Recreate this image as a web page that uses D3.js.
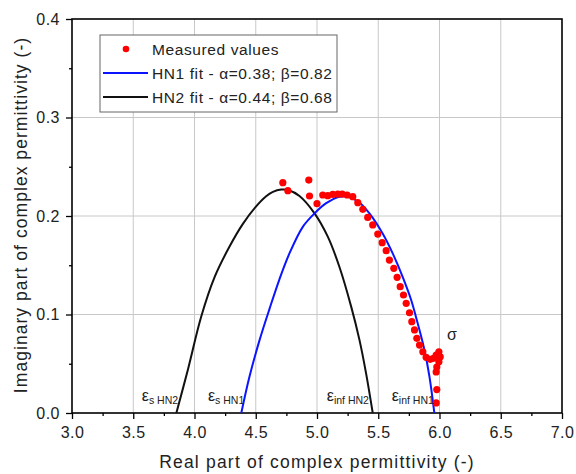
<!DOCTYPE html>
<html>
<head>
<meta charset="utf-8">
<script src="https://cdn.jsdelivr.net/npm/d3@7"></script>
<style>
  html, body { margin: 0; padding: 0; background: #fff; }
  svg { display: block; font-family: "Liberation Sans", Arial, sans-serif; }
</style>
</head>
<body>
<svg id="chart" width="576" height="474"></svg>
<script>
// Measured Cole-Cole points (real, imaginary part of permittivity)
const measuredReal = [4.721, 4.762, 4.933, 4.939, 5.000, 5.047, 5.088, 5.129, 5.170, 5.206,
  5.246, 5.292, 5.333, 5.374, 5.414, 5.455, 5.496, 5.532, 5.565, 5.591,
  5.627, 5.654, 5.679, 5.706, 5.728, 5.755, 5.774, 5.796, 5.815, 5.837,
  5.864, 5.891, 5.924, 5.951, 5.973, 5.995, 6.006, 5.995, 5.978, 5.973,
  5.978, 5.973];
const measuredImag = [0.2338, 0.2257, 0.2365, 0.2203, 0.2125, 0.2213, 0.2206, 0.2220, 0.2223, 0.2223,
  0.2213, 0.2196, 0.2135, 0.2068, 0.1986, 0.1909, 0.1817, 0.1729, 0.1648, 0.1553,
  0.1469, 0.1377, 0.1282, 0.1198, 0.1113, 0.1018, 0.0927, 0.0843, 0.0758, 0.0690,
  0.0622, 0.0565, 0.0545, 0.0555, 0.0589, 0.0622, 0.0571, 0.0520, 0.0467, 0.0417,
  0.0238, 0.0102];

// HN1 fit curve
const hn1Real = [4.382, 4.449, 4.531, 4.613, 4.694, 4.775, 4.884, 4.980, 5.075, 5.184,
  5.265, 5.347, 5.428, 5.537, 5.618, 5.700, 5.768, 5.822, 5.877, 5.918, 5.958];
const hn1Imag = [0.000, 0.037, 0.074, 0.106, 0.136, 0.162, 0.189, 0.2027, 0.213, 0.2196,
  0.219, 0.2135, 0.2027, 0.182, 0.162, 0.138, 0.115, 0.091, 0.064, 0.037, 0.000];

// HN2 fit curve
const hn2Real = [3.852, 3.946, 4.055, 4.164, 4.286, 4.395, 4.498, 4.585, 4.640, 4.708,
  4.770, 4.857, 4.980, 5.088, 5.184, 5.279, 5.347, 5.401, 5.455];
const hn2Imag = [0.000, 0.044, 0.098, 0.138, 0.169, 0.192, 0.209, 0.220, 0.2245, 0.2268,
  0.2262, 0.2203, 0.2027, 0.179, 0.148, 0.108, 0.074, 0.040, 0.000];

const xTicks = [3.0, 3.5, 4.0, 4.5, 5.0, 5.5, 6.0, 6.5, 7.0];
const yTicks = [0.0, 0.1, 0.2, 0.3, 0.4];

const legendLabels = ["Measured values", "HN1 fit - \u03b1=0.38; \u03b2=0.82", "HN2 fit - \u03b1=0.44; \u03b2=0.68"];

// Limit markers on the real axis: [greek, subscript, real value]
const limitLabels = [
  ["\u03b5", "s HN2", 3.57],
  ["\u03b5", "s HN1", 4.11],
  ["\u03b5", "inf HN2", 5.08],
  ["\u03b5", "inf HN1", 5.61]
];

const svg = d3.select("#chart");
const m = { left: 72, right: 562, top: 19, bottom: 413 };

const x = d3.scaleLinear().domain([3, 7]).range([m.left, m.right]);
const y = d3.scaleLinear().domain([0, 0.4]).range([m.bottom, m.top]);

// grid
const grid = svg.append("g");
grid.selectAll("line.gx").data(xTicks.slice(1, -1)).join("line")
  .attr("x1", d => x(d)).attr("x2", d => x(d))
  .attr("y1", m.top).attr("y2", m.bottom)
  .attr("stroke", "#c8c8c8").attr("stroke-width", 1);
grid.selectAll("line.gy").data(yTicks.slice(1, -1)).join("line")
  .attr("y1", d => y(d)).attr("y2", d => y(d))
  .attr("x1", m.left).attr("x2", m.right)
  .attr("stroke", "#c8c8c8").attr("stroke-width", 1);

// axes
const xAxis = d3.axisBottom(x).tickValues(xTicks).tickFormat(d3.format(".1f")).tickSize(6).tickPadding(8);
const xMinor = d3.axisBottom(x).tickValues(d3.range(3.25, 7, 0.5)).tickFormat("").tickSize(3);
const yAxis = d3.axisLeft(y).tickValues(yTicks).tickFormat(d3.format(".1f")).tickSize(6).tickPadding(6);
const yMinor = d3.axisLeft(y).tickValues([0.05, 0.15, 0.25, 0.35]).tickFormat("").tickSize(3);

function styleAxis(g) {
  g.select(".domain").remove();
  g.selectAll(".tick line").attr("stroke", "#000").attr("stroke-width", 1.3);
  g.selectAll(".tick text").attr("fill", "#222").style("font-size", "16px")
    .style("letter-spacing", "0.5px")
    .style("font-family", "'Liberation Sans', Arial, sans-serif");
}
svg.append("g").attr("transform", `translate(0,${m.bottom})`).call(xAxis).call(styleAxis);
svg.append("g").attr("transform", `translate(0,${m.bottom})`).call(xMinor).call(styleAxis);
svg.append("g").attr("transform", `translate(${m.left},0)`).call(yAxis).call(styleAxis);
svg.append("g").attr("transform", `translate(${m.left},0)`).call(yMinor).call(styleAxis);

// frame
svg.append("rect")
  .attr("x", m.left).attr("y", m.top)
  .attr("width", m.right - m.left).attr("height", m.bottom - m.top)
  .attr("fill", "none").attr("stroke", "#000").attr("stroke-width", 1.6);

// fit curves
const line = d3.line().x(d => x(d[0])).y(d => y(d[1])).curve(d3.curveCatmullRom.alpha(0.5));
svg.append("clipPath").attr("id", "plotclip").append("rect")
  .attr("x", m.left).attr("y", m.top).attr("width", m.right - m.left).attr("height", m.bottom - m.top);
const plot = svg.append("g").attr("clip-path", "url(#plotclip)");

plot.append("path").datum(d3.zip(hn2Real, hn2Imag))
  .attr("d", line).attr("fill", "none").attr("stroke", "#111").attr("stroke-width", 2);
plot.append("path").datum(d3.zip(hn1Real, hn1Imag))
  .attr("d", line).attr("fill", "none").attr("stroke", "#0a14ff").attr("stroke-width", 2);

// measured points
plot.selectAll("circle.pt").data(d3.zip(measuredReal, measuredImag)).join("circle")
  .attr("cx", d => x(d[0])).attr("cy", d => y(d[1])).attr("r", 3.6)
  .attr("fill", "#ff0000");

// limit labels
limitLabels.forEach(([g, sub, v]) => {
  const t = svg.append("text").attr("x", x(v)).attr("y", 401).attr("fill", "#222");
  t.append("tspan").text(g).style("font-size", "16px");
  t.append("tspan").text(sub).attr("dy", 3).style("font-size", "10.5px");
});

svg.append("text").attr("x", 447).attr("y", 340).text("\u03c3")
  .style("font-size", "16px").attr("fill", "#222");

// legend
const lg = svg.append("g");
lg.append("rect").attr("x", 100).attr("y", 35).attr("width", 237).attr("height", 77)
  .attr("fill", "#fff").attr("stroke", "#666").attr("stroke-width", 1);
const rows = [49, 73, 97];
lg.append("circle").attr("cx", 126).attr("cy", rows[0]).attr("r", 3.3).attr("fill", "#ff0000");
lg.append("line").attr("x1", 103).attr("x2", 148).attr("y1", rows[1]).attr("y2", rows[1])
  .attr("stroke", "#0a14ff").attr("stroke-width", 2);
lg.append("line").attr("x1", 103).attr("x2", 148).attr("y1", rows[2]).attr("y2", rows[2])
  .attr("stroke", "#111").attr("stroke-width", 2);
lg.selectAll("text").data(legendLabels).join("text")
  .attr("x", 152).attr("y", (d, i) => rows[i] + 6)
  .text(d => d).style("font-size", "15.5px").style("letter-spacing", "0.6px").attr("fill", "#222");

// axis titles
svg.append("text").attr("x", (m.left + m.right) / 2).attr("y", 468)
  .attr("text-anchor", "middle").style("font-size", "17.5px").style("letter-spacing", "1.2px")
  .attr("fill", "#222")
  .text("Real part of complex permittivity (-)");
svg.append("text").attr("transform", "translate(26.5,215) rotate(-90)")
  .attr("text-anchor", "middle").style("font-size", "17.5px").style("letter-spacing", "1.05px")
  .attr("fill", "#222")
  .text("Imaginary part of complex permittivity (-)");
</script>
</body>
</html>
